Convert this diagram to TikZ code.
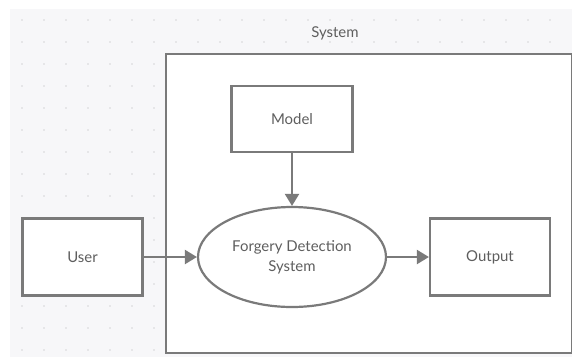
\documentclass[tikz,border=0pt]{standalone}
\usepackage{fontspec}
\setmainfont{Lato}
\usetikzlibrary{shapes.geometric,arrows.meta}
\definecolor{bgc}{HTML}{F7F7F9}
\definecolor{dotc}{HTML}{D6D6D8}
\definecolor{linec}{HTML}{7A7A7A}
\definecolor{txtc}{HTML}{5E5E5E}
\tikzset{
  box/.style={draw=linec, line width=2.2bp, fill=white, minimum width=120bp, minimum height=77bp, inner sep=0pt, text=txtc, font=\fontsize{15}{18}\selectfont},
  proc/.style={draw=linec, line width=2.2bp, fill=white, ellipse, minimum width=188bp, minimum height=100bp, inner sep=0pt, text=txtc, align=center, font=\fontsize{15}{20}\selectfont},
  conn/.style={draw=linec, line width=2.2bp, -{Triangle[length=12bp,width=14bp]}},
  frame/.style={draw=linec, line width=2bp, fill=white},
}
\begin{document}
\begin{tikzpicture}[x=1bp,y=-1bp]
\useasboundingbox (0,0) rectangle (572,358);
\fill[white] (0,0) rectangle (572,358);
\fill[bgc] (10,9) rectangle (572,357);
\foreach \i in {0,...,24}{
  \foreach \j in {0,...,15}{
    \fill[dotc] (22+22*\i,20+22*\j) circle (0.9bp);
  }
}
\node[frame, minimum width=406bp, minimum height=299bp, anchor=north west, inner sep=0pt] (sys) at (165,53) {};
\node[text=txtc, font=\fontsize{15}{18}\selectfont] (syslabel) at (335,33) {System};
\node[box, minimum width=121bp, minimum height=66bp] (model) at (292,119) {Model};
\node[proc] (fds) at (292,257) {Forgery Detection\\System};
\node[box] (user) at (82.5,257) {User};
\node[box] (out) at (490,257) {Output};
\draw[conn] (model) -- (fds);
\draw[conn] (user) -- (fds);
\draw[conn] (fds) -- (out);
\end{tikzpicture}
\end{document}
